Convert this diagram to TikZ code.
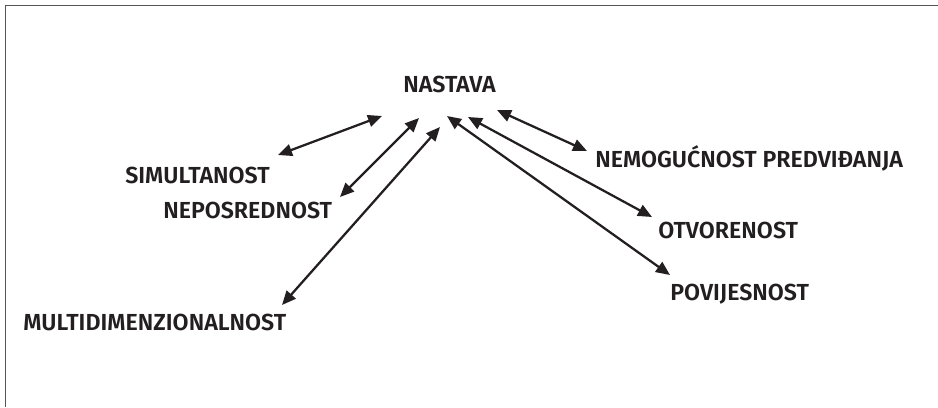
\documentclass[tikz,border=0pt]{standalone}
\usepackage{fontspec}
\setmainfont{Fira Sans}[BoldFont={Fira Sans SemiBold}]
\usetikzlibrary{arrows.meta}
\definecolor{ink}{HTML}{231F20}
\definecolor{framegray}{HTML}{555555}
\begin{document}
\begin{tikzpicture}[x=0.75pt,y=-0.75pt,
  lbl/.style={inner sep=0pt,anchor=base west,text=ink,font=\fontsize{17.4}{19}\selectfont\bfseries},
  link/.style={draw=ink,line width=1.7pt,{Triangle[length=10.5pt,width=9pt]}-{Triangle[length=10.5pt,width=9pt]}},
  framerule/.style={draw=framegray,line width=1.3pt}]
\useasboundingbox (0,0) rectangle (938,407);
% open frame: top and left edges only
\coordinate (fc) at (5.5,5.5);
\coordinate (ft) at (938,5.5);
\coordinate (fb) at (5.5,407);
\draw[framerule] (ft) -- (fc) -- (fb);

% labels
\node[lbl] (nastava) at (403,92) {NASTAVA};
\node[lbl] (sim) at (125,183) {SIMULTANOST};
\node[lbl] (nep) at (163,218) {NEPOSREDNOST};
\node[lbl] (multi) at (23,330) {MULTIDIMENZIONALNOST};
\node[lbl] (nem) at (595,167) {NEMOGUĆNOST PREDVIĐANJA};
\node[lbl] (otv) at (658,238) {OTVORENOST};
\node[lbl] (pov) at (670,300) {POVIJESNOST};

% arrow end points
\coordinate (simA) at (278,155);  \coordinate (simB) at (382,116);
\coordinate (nepA) at (340,197);  \coordinate (nepB) at (419,118);
\coordinate (mulA) at (282,305);  \coordinate (mulB) at (440,127);
\coordinate (povA) at (670,275);  \coordinate (povB) at (447,116);
\coordinate (otvA) at (652,217);  \coordinate (otvB) at (468,117);
\coordinate (nemA) at (587,151);  \coordinate (nemB) at (497,110);

\draw[link] (simA) -- (simB);
\draw[link] (nepA) -- (nepB);
\draw[link] (mulA) -- (mulB);
\draw[link] (povA) -- (povB);
\draw[link] (otvA) -- (otvB);
\draw[link] (nemA) -- (nemB);
\end{tikzpicture}
\end{document}
